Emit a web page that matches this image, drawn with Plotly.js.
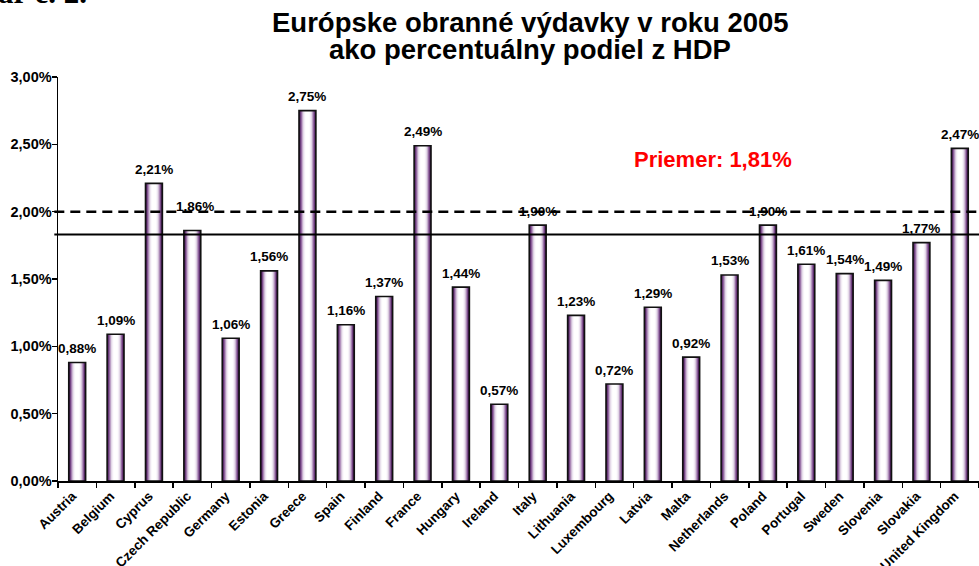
<!DOCTYPE html>
<html>
<head>
<meta charset="utf-8">
<script src="https://cdn.plot.ly/plotly-3.0.1.min.js"></script>
<style>html,body{margin:0;padding:0;background:#fff;}#chart{width:979px;height:566px;}</style>
</head>
<body>
<div id="chart"></div>
<script>
const countries = ["Austria","Belgium","Cyprus","Czech Republic","Germany","Estonia","Greece","Spain","Finland","France","Hungary","Ireland","Italy","Lithuania","Luxembourg","Latvia","Malta","Netherlands","Poland","Portugal","Sweden","Slovenia","Slovakia","United Kingdom"];
const spending = [0.88,1.09,2.21,1.86,1.06,1.56,2.75,1.16,1.37,2.49,1.44,0.57,1.90,1.23,0.72,1.29,0.92,1.53,1.90,1.61,1.54,1.49,1.77,2.47];
const yTicks = [0,0.5,1,1.5,2,2.5,3];
const natoTarget = 2.0;
const averageLine = 1.83;
const averageLabel = "Priemer: 1,81%";
const titleLines = ["Európske obranné výdavky v roku 2005","ako percentuálny podiel z HDP"];

const FONT = "Liberation Sans, Arial, sans-serif";
const fmt = v => v.toFixed(2).replace('.', ',') + '%';

// gradient layers for cylinder-like bars
const layers = [
  {w:0.44, c:'#3a1245'},
  {w:0.40, c:'#5b2a6b'},
  {w:0.36, c:'#7d4e8c'},
  {w:0.32, c:'#a07aad'},
  {w:0.28, c:'#c2a8cb'},
  {w:0.24, c:'#ddd0e2'},
  {w:0.20, c:'#efe8f2'},
  {w:0.15, c:'#fbf9fc'},
  {w:0.10, c:'#ffffff'}
];
const traces = layers.map((L, i) => ({
  type: 'bar',
  x: countries,
  y: spending,
  width: L.w,
  offset: -L.w/2,
  marker: {color: L.c, line: {width:0}},
  hoverinfo: 'skip',
  showlegend: false
}));
traces.push({
  type:'bar', x: countries, y: spending, width: 0.44, offset: -0.22,
  marker:{color:'rgba(0,0,0,0)', line:{color:'#111', width:1.6}},
  hoverinfo:'skip', showlegend:false
});

const annotations = countries.map((c, i) => ({
  x: c, y: spending[i], xref:'x', yref:'y',
  text: fmt(spending[i]), showarrow:false,
  yanchor:'middle', yshift: c === 'Czech Republic' ? 24 : 14,
  xshift: c === 'Czech Republic' ? 3 : 0,
  font:{family:FONT, size:13.5, color:'#000', weight:700}
}));
annotations.push({
  xref:'paper', yref:'paper', x:(713-58)/921, y:(481-159)/404,
  text: averageLabel, showarrow:false, xanchor:'center', yanchor:'middle',
  font:{family:FONT, size:22, color:'#ff0000', weight:700}
});
annotations.push({
  xref:'paper', yref:'paper', x:(-4-58)/921, y:1, xanchor:'left', yanchor:'bottom', yshift:65,
  text:'ar č. 2.', showarrow:false,
  font:{family:'Liberation Serif, Times New Roman, serif', size:31, color:'#000', weight:700}
});
annotations.push({
  xref:'paper', yref:'paper', x:(530-58)/921, y:(481-22)/404, xanchor:'center', yanchor:'middle',
  text:titleLines[0], showarrow:false,
  font:{family:FONT, size:27.5, color:'#000', weight:700}
});
annotations.push({
  xref:'paper', yref:'paper', x:(530-58)/921, y:(481-50)/404, xanchor:'center', yanchor:'middle',
  text:titleLines[1], showarrow:false,
  font:{family:FONT, size:27.5, color:'#000', weight:700}
});

const layout = {
  width: 979, height: 566,
  margin: {l:58, r:0, t:77, b:85, pad:0},
  paper_bgcolor:'#fff', plot_bgcolor:'#fff',
  barmode: 'overlay',
  xaxis: {
    type:'category', range:[-0.5, 23.5],
    showline:true, linecolor:'#000', linewidth:2,
    ticks:'outside', tickson:'boundaries', ticklen:5, tickcolor:'#000', tickwidth:1.5,
    tickangle:-45, automargin:false, ticklabelshift:-5,
    tickfont:{family:FONT, size:13.5, color:'#000', weight:700},
    showgrid:false, zeroline:false, fixedrange:true
  },
  yaxis: {
    range:[0, 3], tickvals: yTicks, ticktext: yTicks.map(fmt),
    showline:true, linecolor:'#000', linewidth:1.5,
    ticks:'outside', ticklen:5, tickcolor:'#000', tickwidth:1.5,
    automargin:false, ticklabelstandoff:-3,
    tickfont:{family:FONT, size:14.5, color:'#000', weight:700},
    showgrid:false, zeroline:false, fixedrange:true
  },
  shapes: [
    {type:'line', xref:'paper', yref:'y', x0:-0.004, x1:1, y0:natoTarget, y1:natoTarget,
     line:{color:'#000', width:2.5, dash:'10px,6px'}, layer:'above'},
    {type:'line', xref:'paper', yref:'y', x0:-0.004, x1:1, y0:averageLine, y1:averageLine,
     line:{color:'#000', width:2}, layer:'above'}
  ],
  annotations: annotations,
  showlegend:false
};

Plotly.newPlot('chart', traces, layout, {displayModeBar:false, staticPlot:true});
</script>
</body>
</html>
